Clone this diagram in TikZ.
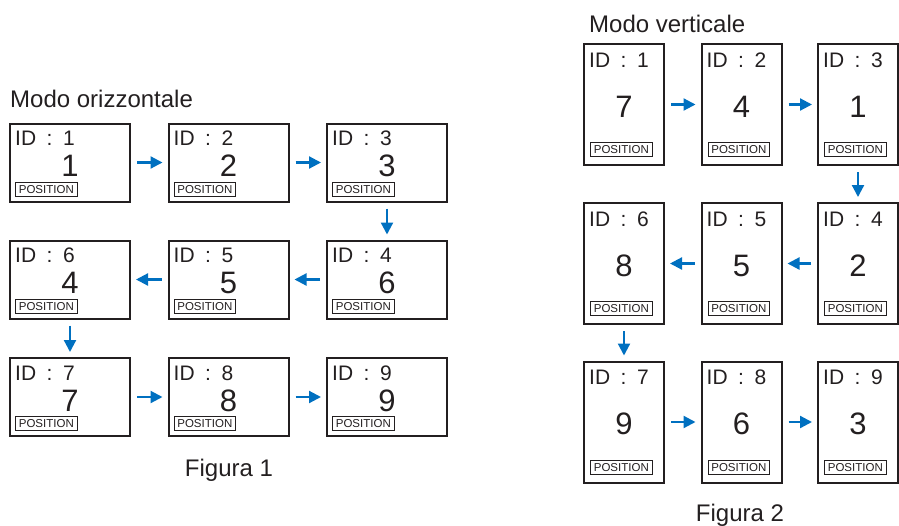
\documentclass[tikz,border=0pt]{standalone}
\usepackage{fontspec}
\setmainfont{Liberation Sans}
\usetikzlibrary{arrows.meta}
\definecolor{ink}{HTML}{231F20}
\definecolor{flow}{RGB}{0,112,192}

\begin{document}
\begin{tikzpicture}[x=1pt,y=-1pt,>={Triangle[length=12pt,width=12pt]},
 scr/.style={draw=ink,line width=2pt,inner sep=0pt},
 hscr/.style={scr,minimum width=120pt,minimum height=78pt},
 vscr/.style={scr,minimum width=80pt,minimum height=121pt},
 idtxt/.style={anchor=base west,inner sep=0pt,text=ink,font=\fontsize{21}{21}\selectfont},
 numtxt/.style={anchor=base,inner sep=0pt,text=ink,font=\fontsize{31}{31}\selectfont},
 posbox/.style={draw=ink,line width=.7pt,anchor=south west,inner xsep=3.5pt,inner ysep=1pt,
  minimum height=14pt,text=ink,font=\fontsize{11.5}{11.5}\selectfont},
 title/.style={inner sep=0pt,text=ink,font=\fontsize{24}{24}\selectfont},
 flowarr/.style={->,draw=flow,line width=2.2pt,shorten <=6pt,shorten >=5pt}]
\useasboundingbox (0,0) rectangle (899,525);

% Figura 1: landscape screens
\node[title,anchor=base west] (htitle) at (10,107) {Modo orizzontale};
\foreach \n/\cx/\cy/\p in {1/70/162.5/1,2/228.5/162.5/2,3/387/162.5/3,
  4/387/279.5/6,5/228.5/279.5/5,6/70/279.5/4,
  7/70/397/7,8/228.5/397/8,9/387/397/9}{
 \node[hscr] (h\n) at (\cx,\cy) {};
 \node[idtxt] (hid\n) at ([xshift=6pt,yshift=-23pt]h\n.north west) {ID\enspace:\enspace\n};
 \node[numtxt] (hnum\n) at ([yshift=-54pt]h\n.north) {\p};
 \node[posbox] (hpos\n) at ([xshift=6pt,yshift=6pt]h\n.south west) {POSITION};
}
\node[title,anchor=base] (hcap) at (229,476) {Figura 1};

% Figura 2: portrait screens
\node[title,anchor=base west] (vtitle) at (589,32.3) {Modo verticale};
\foreach \n/\cx/\cy/\p in {1/624/104.5/7,2/741.5/104.5/4,3/858/104.5/1,
  4/858/263.5/2,5/741.5/263.5/5,6/624/263.5/8,
  7/624/422/9,8/741.5/422/6,9/858/422/3}{
 \node[vscr] (v\n) at (\cx,\cy) {};
 \node[idtxt] (vid\n) at ([xshift=6pt,yshift=-24pt]v\n.north west) {ID\enspace:\enspace\n};
 \node[numtxt] (vnum\n) at ([yshift=-74pt]v\n.north) {\p};
 \node[posbox] (vpos\n) at ([xshift=7pt,yshift=9pt]v\n.south west) {POSITION};
}
\node[title,anchor=base] (vcap) at (740,521.5) {Figura 2};

% order of the chain
\foreach \a/\b in {1/2,2/3,3/4,4/5,5/6,6/7,7/8,8/9}{
 \draw[flowarr] (h\a) -- (h\b);
 \draw[flowarr] (v\a) -- (v\b);
}
\end{tikzpicture}
\end{document}
